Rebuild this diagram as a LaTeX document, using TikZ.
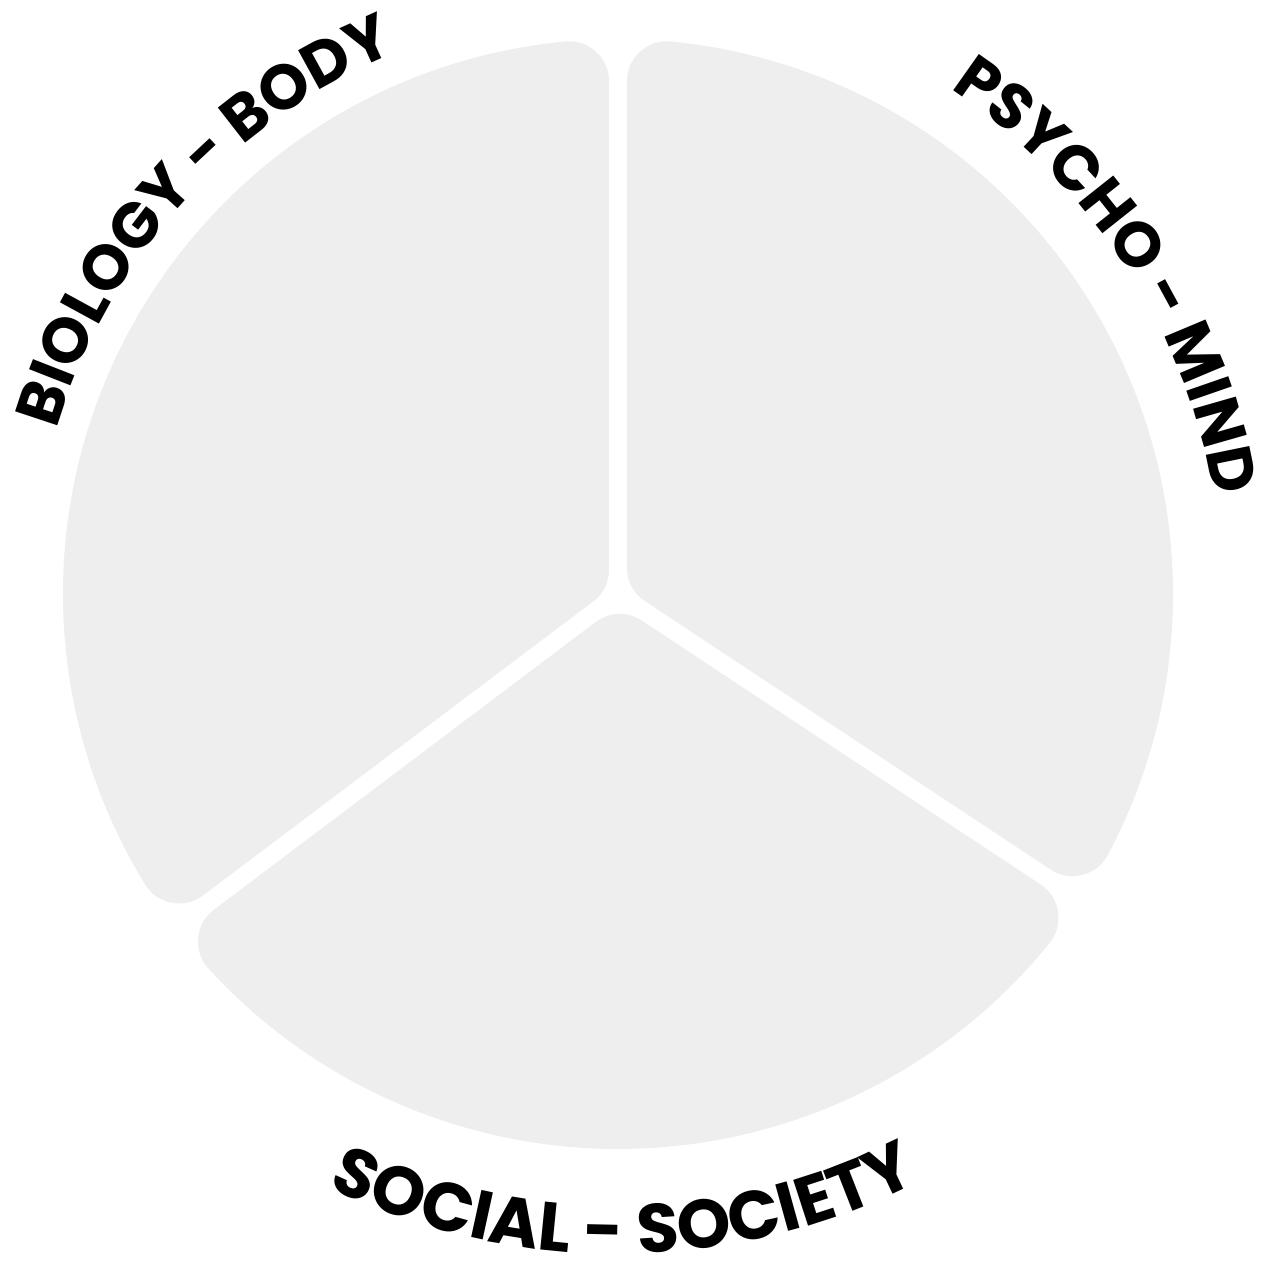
\documentclass[tikz,border=0pt]{standalone}
\usepackage{fontspec}
\usetikzlibrary{decorations.text}
\newfontfamily\labelfont{Poppins}
\definecolor{sectorgray}{HTML}{EEEEEE}

\begin{document}
\begin{tikzpicture}[x=0.01cm, y=0.01cm,
	sector/.style={fill=sectorgray, draw=sectorgray, line width=0.8cm, line join=round},
	arclabel/.style 2 args={decorate, decoration={text along path, text align=center,
		text={|\labelfont\bfseries\fontsize{#1}{#1}\selectfont|#2}}}]
	\useasboundingbox (-618,-667) rectangle (642,594);
	% three sectors, gaps of 18 and corners of 40
	\foreach \a/\b in {90/217, 217/326.5, 326.5/450} {
		\filldraw[sector] ({(\a+\b)/2}:{49/sin((\b-\a)/2)}) -- ({\a+5.46}:515)
			arc[start angle={\a+5.46}, end angle={\b-5.46}, radius=515] -- cycle;
	}
	\path[arclabel={18}{BIOLOGY - BODY}] (178:585) arc[start angle=178, end angle=98, radius=585];
	\path[arclabel={18}{PSYCHO - MIND}] (73:604) arc[start angle=73, end angle=-7, radius=604];
	\path[arclabel={19.5}{SOCIAL - SOCIETY}] (230.5:660) arc[start angle=230.5, end angle=310.5, radius=660];
\end{tikzpicture}
\end{document}
